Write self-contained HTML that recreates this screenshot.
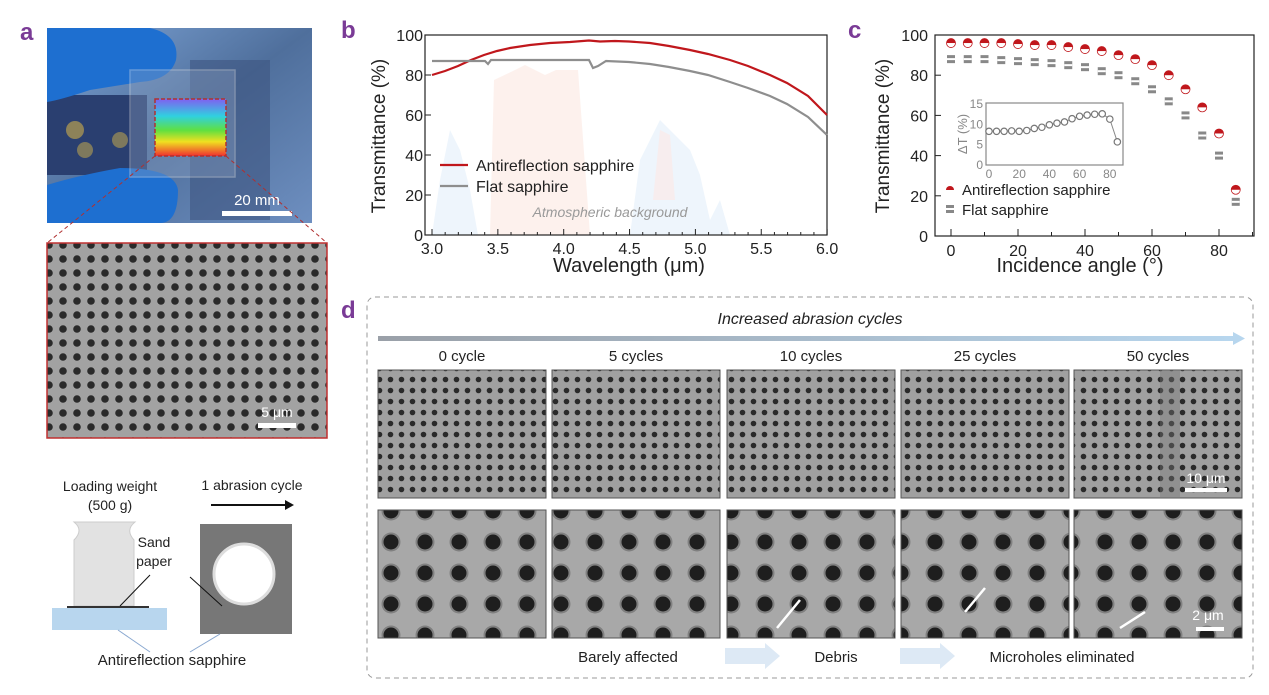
<!DOCTYPE html>
<html><head><meta charset="utf-8"><style>
body{margin:0;background:#fff;width:1269px;height:690px;overflow:hidden;font-family:"Liberation Sans",sans-serif}
svg text{font-family:"Liberation Sans",sans-serif}
</style></head><body>
<svg id="s" width="1269" height="690" xmlns="http://www.w3.org/2000/svg">
<defs>
<pattern id="p1" width="11" height="11" patternUnits="userSpaceOnUse"><rect width="11" height="11" fill="#a0a0a0"/><circle cx="5.5" cy="5.5" r="2.8" fill="#2a2a2a"/></pattern>
<pattern id="p0" width="14" height="14" patternUnits="userSpaceOnUse"><rect width="14" height="14" fill="#a2a2a2"/><circle cx="7" cy="7" r="3.8" fill="#2a2a2a"/></pattern>
<pattern id="p2" width="34" height="31" patternUnits="userSpaceOnUse"><rect width="34" height="31" fill="#a8a8a8"/><circle cx="17" cy="15" r="9.5" fill="#808080"/><circle cx="17" cy="15" r="7.5" fill="#1e1e1e"/></pattern>
<linearGradient id="ga" x1="0" x2="1"><stop offset="0" stop-color="#9aa0a8"/><stop offset="1" stop-color="#b7d6ee"/></linearGradient>
<linearGradient id="ph" x1="0" x2="1" y1="0" y2="1"><stop offset="0" stop-color="#7fa6d8"/><stop offset="0.5" stop-color="#4f6f9c"/><stop offset="1" stop-color="#6e8fc0"/></linearGradient>
<linearGradient id="rb" x1="0" x2="0" y1="0" y2="1"><stop offset="0" stop-color="#8060f0"/><stop offset=".3" stop-color="#30d0e0"/><stop offset=".55" stop-color="#60e040"/><stop offset=".75" stop-color="#f0e020"/><stop offset="1" stop-color="#f03030"/></linearGradient>
</defs>
<g font-weight="bold" font-size="24" fill="#7a3b96"><text x="20" y="40">a</text><text x="341" y="38">b</text><text x="848" y="38">c</text><text x="341" y="318">d</text></g>
<rect x="47" y="28" width="265" height="195" fill="url(#ph)"/>
<rect x="47" y="95" width="100" height="80" fill="#2a3f70"/>
<circle cx="75" cy="130" r="9" fill="#b8a050" opacity=".7"/><circle cx="85" cy="150" r="8" fill="#b8a050" opacity=".6"/><circle cx="120" cy="140" r="8" fill="#b8a050" opacity=".6"/>
<rect x="190" y="60" width="80" height="160" fill="#3d5580" opacity=".6"/>
<path d="M47,28 L150,28 Q180,35 176,60 Q170,80 140,82 L90,90 Q60,100 47,102 Z" fill="#1e6fd0"/>
<path d="M47,185 Q80,175 120,168 Q175,168 178,190 Q178,223 160,223 L47,223 Z" fill="#1e6fd0"/>
<rect x="130" y="70" width="105" height="107" fill="#8fa4c4" opacity=".35" stroke="#e8e8e8" stroke-width="1.5"/>
<rect x="155" y="99" width="71" height="57" fill="url(#rb)"/>
<rect x="155" y="99" width="71" height="57" fill="none" stroke="#b03030" stroke-width="1.5" stroke-dasharray="4,2"/>
<rect x="222" y="211" width="70" height="5" fill="#fff"/><text x="257" y="205" fill="#fff" font-size="15" text-anchor="middle">20 mm</text>
<line x1="155" y1="156" x2="47" y2="243" stroke="#b03030" stroke-dasharray="4,3"/><line x1="226" y1="156" x2="327" y2="243" stroke="#b03030" stroke-dasharray="4,3"/>
<rect x="47" y="243" width="280" height="195" fill="url(#p0)" stroke="#c03030" stroke-width="1.5"/>
<rect x="258" y="423" width="38" height="5" fill="#fff"/><text x="277" y="417" fill="#fff" font-size="14" text-anchor="middle">5 μm</text>
<text x="110" y="491" font-size="14" fill="#222" text-anchor="middle">Loading weight</text>
<text x="110" y="510" font-size="14" fill="#222" text-anchor="middle">(500 g)</text>
<text x="252" y="490" font-size="14" fill="#222" text-anchor="middle">1 abrasion cycle</text>
<line x1="211" y1="505" x2="285" y2="505" stroke="#111" stroke-width="2"/><polygon points="285,500 294,505 285,510" fill="#111"/>
<path d="M90,522 L135,522 Q125,530 134,540 L134,606 L74,606 L74,540 Q84,530 74,522 Z" fill="#e2e2e2" stroke="#ccc"/>
<rect x="67" y="606" width="82" height="2" fill="#333"/>
<rect x="52" y="608" width="115" height="22" fill="#b8d6ee"/>
<rect x="200" y="524" width="92" height="110" fill="#777"/>
<circle cx="244" cy="574" r="30" fill="#fff" stroke="#ddd" stroke-width="3"/>
<text x="154" y="547" font-size="14" fill="#222" text-anchor="middle">Sand</text><text x="154" y="566" font-size="14" fill="#222" text-anchor="middle">paper</text>
<line x1="150" y1="575" x2="120" y2="606" stroke="#111"/><line x1="190" y1="577" x2="222" y2="606" stroke="#111"/>
<line x1="118" y1="630" x2="150" y2="652" stroke="#8aa8d0"/><line x1="220" y1="634" x2="190" y2="652" stroke="#8aa8d0"/>
<text x="172" y="665" font-size="15" fill="#222" text-anchor="middle">Antireflection sapphire</text>
<path d="M432,235 L440,180 450,130 460,150 470,190 478,235 Z" fill="#eaf2fb" opacity=".8"/>
<path d="M490,235 L494,80 515,70 525,65 545,75 556,70 578,70 590,235 Z" fill="#fdeee8" opacity=".8"/>
<path d="M630,235 L640,160 650,140 660,120 670,130 690,150 700,175 710,220 720,200 730,235 Z" fill="#eaf2fb" opacity=".8"/>
<path d="M653,200 L660,130 670,135 675,200 Z" fill="#fde8e4" opacity=".6"/>
<rect x="425" y="35" width="402" height="200" fill="none" stroke="#222" stroke-width="1.2"/>
<polyline fill="none" stroke="#c0171c" stroke-width="2.2" points="432,75 445,71 458,66 471,60 484,55 497,51 510,48 530,45 550,43 570,42 589,40.5 600,41.5 615,41 629,41.5 650,43 669,46 690,50 708,54 730,60 748,66 770,75 787,83 808,96 827,115"/>
<polyline fill="none" stroke="#8e8e8e" stroke-width="2.2" points="432,61 485,61 488,64 491,60 497,60 589,60 593,68 598,66 606,61 629,62 650,64 669,67 690,71 708,75 730,82 748,88 770,96 787,104 808,117 827,135"/>
<text x="610" y="217" font-size="14" fill="#999" font-style="italic" text-anchor="middle">Atmospheric background</text>
<line x1="440" y1="165" x2="468" y2="165" stroke="#c0171c" stroke-width="2.2"/><text x="476" y="171" font-size="16" fill="#222">Antireflection sapphire</text>
<line x1="440" y1="186" x2="468" y2="186" stroke="#8e8e8e" stroke-width="2.2"/><text x="476" y="192" font-size="16" fill="#222">Flat sapphire</text>
<text x="629" y="272" font-size="20" fill="#222" text-anchor="middle">Wavelength (μm)</text>
<text transform="translate(385,136) rotate(-90)" font-size="19" fill="#222" text-anchor="middle">Transmittance (%)</text>
<rect x="935" y="35" width="319" height="201" fill="none" stroke="#222" stroke-width="1.2"/>
<text x="1080" y="272" font-size="20" fill="#222" text-anchor="middle">Incidence angle  (°)</text>
<text transform="translate(889,136) rotate(-90)" font-size="19" fill="#222" text-anchor="middle">Transmittance (%)</text>
<rect x="986" y="103" width="137" height="62" fill="#fff" stroke="#888" stroke-width="1.2"/>
<text transform="translate(967,134) rotate(-90)" font-size="13" fill="#888" text-anchor="middle">ΔT (%)</text>
<circle cx="950" cy="190" r="4" fill="#c0171c"/><rect x="946" y="190" width="8" height="4" fill="#fff"/>
<text x="962" y="195" font-size="15" fill="#222">Antireflection sapphire</text>
<rect x="946" y="205" width="8" height="8" fill="#888"/><rect x="946" y="208" width="8" height="2" fill="#fff"/>
<text x="962" y="215" font-size="15" fill="#222">Flat sapphire</text>
<rect x="367" y="297" width="886" height="381" rx="8" fill="none" stroke="#999" stroke-dasharray="5,4"/>
<text x="810" y="324" font-size="16" font-style="italic" fill="#222" text-anchor="middle">Increased abrasion cycles</text>
<rect x="378" y="336" width="855" height="5" fill="url(#ga)"/><polygon points="1233,332 1245,338.5 1233,345" fill="#b7d6ee"/>
<text x="628" y="662" font-size="15" fill="#222" text-anchor="middle">Barely affected</text>
<text x="836" y="662" font-size="15" fill="#222" text-anchor="middle">Debris</text>
<text x="1062" y="662" font-size="15" fill="#222" text-anchor="middle">Microholes eliminated</text>
<polygon points="725,648 765,648 765,643 780,656 765,669 765,664 725,664" fill="#dde9f5"/>
<polygon points="900,648 940,648 940,643 955,656 940,669 940,664 900,664" fill="#dde9f5"/>
</svg>
<script>
var s=document.getElementById('s'),NS='http://www.w3.org/2000/svg';
function el(t,a,p){var e=document.createElementNS(NS,t);for(var k in a)e.setAttribute(k,a[k]);(p||s).appendChild(e);return e}
function tx(x,y,str,a){var e=el('text',Object.assign({x:x,y:y,'font-size':16,fill:'#222'},a||{}));e.textContent=str;return e}
for(var i=0;i<=5;i++){var y=235-i*40;el('line',{x1:425,y1:y,x2:431,y2:y,stroke:'#222'});tx(423,y+6,String(i*20),{'text-anchor':'end'});}
for(var w=3;w<=6.001;w+=0.1){var x=432+(w-3)*131.7;var mj=Math.abs(w*2-Math.round(w*2))<0.01;el('line',{x1:x,y1:235,x2:x,y2:mj?229:232,stroke:'#222'});if(mj)tx(x,254,w.toFixed(1),{'text-anchor':'middle'});}
for(i=0;i<=5;i++){y=236-i*40.2;el('line',{x1:935,y1:y,x2:941,y2:y,stroke:'#222'});tx(928,y+6,String(i*20),{'text-anchor':'end'});}
for(var a=0;a<=90;a+=10){x=951+a*3.35;el('line',{x1:x,y1:236,x2:x,y2:a%20?232:229,stroke:'#222'});if(a%20==0&&a<=80)tx(x,256,String(a),{'text-anchor':'middle'});}
var R=[96,96,96,96,95.5,95,95,94,93,92,90,88,85,80,73,64,51,23],G=[88,88,88,87.5,87,86.5,86,85,84,82,80,77,73,67,60,50,40,17];
for(i=0;i<18;i++){x=951+i*5*3.35;
 var yr=236-R[i]*2.01,yg=236-G[i]*2.01;
 el('rect',{x:x-4,y:yg-4,width:8,height:8,fill:'#888'});el('rect',{x:x-4,y:yg-1,width:8,height:2,fill:'#fff'});
 el('circle',{cx:x,cy:yr,r:4.5,fill:'#c0171c'});el('rect',{x:x-4.5,y:yr,width:9,height:4.6,fill:'#fff'});el('circle',{cx:x,cy:yr,r:4.5,fill:'none',stroke:'#c0171c','stroke-width':0.8});}
for(i=0;i<=3;i++){y=165-i*20.3;tx(983,y+4,String(i*5),{'text-anchor':'end','font-size':12,fill:'#888'});}
for(a=0;a<=80;a+=20){x=989+a*1.51;tx(x,178,String(a),{'text-anchor':'middle','font-size':12,fill:'#888'});}
var D=[8.3,8.3,8.3,8.4,8.3,8.5,9,9.3,9.9,10.3,10.6,11.4,12,12.3,12.5,12.6,11.3,5.7],pts=[];
for(i=0;i<18;i++)pts.push((989+i*5*1.51)+','+(165-D[i]*4.06));
el('polyline',{points:pts.join(' '),fill:'none',stroke:'#888'});
for(i=0;i<18;i++)el('circle',{cx:989+i*5*1.51,cy:165-D[i]*4.06,r:3.2,fill:'#fff',stroke:'#777','stroke-width':1.2});
var cols=[378,552,727,901,1074],lab=['0 cycle','5 cycles','10 cycles','25 cycles','50 cycles'];
for(i=0;i<5;i++){x=cols[i];tx(x+84,361,lab[i],{'text-anchor':'middle','font-size':15});
 el('rect',{x:x,y:370,width:168,height:128,fill:'url(#p1)',stroke:'#555'});
 el('rect',{x:x,y:510,width:168,height:128,fill:'url(#p2)',stroke:'#555'});}
el('rect',{x:1160,y:370,width:20,height:128,fill:'#777',opacity:.4});
el('rect',{x:1185,y:488,width:42,height:4,fill:'#fff'});tx(1206,483,'10 μm',{'text-anchor':'middle',fill:'#fff','font-size':14});
el('rect',{x:1196,y:627,width:28,height:4,fill:'#fff'});tx(1208,620,'2 μm',{'text-anchor':'middle',fill:'#fff','font-size':14});
[[777,628,800,600],[965,612,985,588],[1120,628,1145,612]].forEach(function(q){el('line',{x1:q[0],y1:q[1],x2:q[2],y2:q[3],stroke:'#fff','stroke-width':2.5})});
</script>
</body></html>
